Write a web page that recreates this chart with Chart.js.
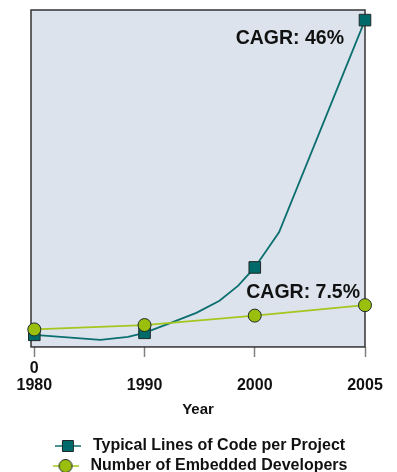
<!DOCTYPE html>
<html>
<head>
<meta charset="utf-8">
<script src="https://cdn.jsdelivr.net/npm/chart.js@4/dist/chart.umd.min.js"></script>
<style>
  html, body { margin: 0; padding: 0; background: #ffffff; overflow: hidden; }
  #wrap { width: 397px; height: 484px; }
</style>
</head>
<body>
<div id="wrap"><canvas id="chart" width="397" height="484"></canvas></div>
<script>
// Year ticks along the horizontal axis (drawn evenly spaced)
const tickYears = [1980, 1990, 2000, 2005];
const yOriginLabel = '0';

// Typical lines of code per project (relative index, 0-100)
const locYears  = [1980, 1986, 1988.5, 1990, 1992.2, 1994.7, 1996.8, 1998.5, 2000, 2001.1, 2005];
const locValues = [3.6,  2.1,  3.0,    4.2,  6.9,    10.1,   13.7,   18.2,   23.6, 34.0,   97.0];

// Number of embedded developers (same relative index)
const devYears  = [1980, 1990, 2000, 2005];
const devValues = [5.2,  6.5,  9.3,  12.4];

const seriesNames = ['Typical Lines of Code per Project', 'Number of Embedded Developers'];
const growthNotes = ['CAGR: 46%', 'CAGR: 7.5%'];
const axisTitle = 'Year';

const FONT = '"Liberation Sans", Arial, Helvetica, sans-serif';
const TEAL_LINE = '#0b6f70';
const TEAL_FILL = '#006a6a';
const GREEN_LINE = '#a4c61e';
const GREEN_FILL = '#9abf0d';
const MARK_EDGE = '#1f2a2a';

// The axis puts each tick year one slot apart; years in between are placed
// proportionally inside their slot.
function yearToSlot(year) {
  for (let i = 0; i < tickYears.length - 1; i++) {
    const a = tickYears[i], b = tickYears[i + 1];
    if (year <= b || i === tickYears.length - 2) {
      return i + (year - a) / (b - a);
    }
  }
  return 0;
}

function legendIcon(lineColor, style, fill) {
  const c = document.createElement('canvas');
  c.width = 26; c.height = 16;
  const g = c.getContext('2d');
  g.strokeStyle = lineColor;
  g.lineWidth = 1.5;
  g.beginPath(); g.moveTo(0, 8); g.lineTo(26, 8); g.stroke();
  g.fillStyle = fill;
  g.strokeStyle = MARK_EDGE;
  g.lineWidth = 1;
  g.beginPath();
  if (style === 'rect') g.rect(7.5, 2.5, 11, 11);
  else g.arc(13, 8, 6.5, 0, Math.PI * 2);
  g.fill(); g.stroke();
  return c;
}
const icons = [legendIcon(TEAL_LINE, 'rect', TEAL_FILL), legendIcon(GREEN_LINE, 'circle', GREEN_FILL)];

const plotFrame = {
  id: 'plotFrame',
  beforeDatasetsDraw(chart) {
    const { ctx, chartArea: a } = chart;
    ctx.save();
    ctx.fillStyle = '#dce3ec';
    ctx.fillRect(a.left, a.top, a.right - a.left, a.bottom - a.top);
    ctx.strokeStyle = '#333333';
    ctx.lineWidth = 1.5;
    ctx.strokeRect(a.left, a.top, a.right - a.left, a.bottom - a.top);
    ctx.restore();
  }
};

const growthLabels = {
  id: 'growthLabels',
  afterDatasetsDraw(chart) {
    const { ctx, chartArea: a, scales } = chart;
    const y = scales.y;
    ctx.save();
    ctx.font = 'bold 19.5px ' + FONT;
    ctx.fillStyle = '#111111';
    ctx.textAlign = 'right';
    ctx.textBaseline = 'alphabetic';
    ctx.fillText(growthNotes[0], a.right - 21, y.getPixelForValue(locValues[locValues.length - 1]) + 24);
    ctx.fillText(growthNotes[1], a.right - 5, y.getPixelForValue(devValues[devValues.length - 1]) - 7);
    ctx.restore();
  }
};

Chart.defaults.font.family = FONT;
Chart.defaults.color = '#111111';

new Chart(document.getElementById('chart'), {
  type: 'line',
  data: {
    datasets: [
      {
        label: seriesNames[0],
        data: locYears.map((yr, i) => ({ x: yearToSlot(yr), y: locValues[i] })),
        borderColor: TEAL_LINE,
        borderWidth: 1.8,
        backgroundColor: TEAL_FILL,
        pointStyle: 'rect',
        pointRadius: (c) => tickYears.includes(locYears[c.dataIndex]) ? 8.2 : 0,
        pointBackgroundColor: TEAL_FILL,
        pointBorderColor: MARK_EDGE,
        pointBorderWidth: 1,
        tension: 0,
        clip: false,
        order: 1
      },
      {
        label: seriesNames[1],
        data: devYears.map((yr, i) => ({ x: yearToSlot(yr), y: devValues[i] })),
        borderColor: GREEN_LINE,
        borderWidth: 1.8,
        backgroundColor: GREEN_FILL,
        pointStyle: 'circle',
        pointRadius: 6.5,
        pointBackgroundColor: GREEN_FILL,
        pointBorderColor: MARK_EDGE,
        pointBorderWidth: 1,
        tension: 0,
        clip: false,
        order: 0
      }
    ]
  },
  options: {
    responsive: false,
    animation: false,
    events: [],
    layout: { padding: { left: 31, right: 32, top: 10, bottom: 0 } },
    scales: {
      x: {
        type: 'linear',
        min: -0.03,
        max: tickYears.length - 1,
        afterBuildTicks(scale) {
          scale.ticks = tickYears.map((_, i) => ({ value: i }));
        },
        ticks: {
          autoSkip: false,
          maxRotation: 0,
          padding: 3.3,
          color: '#111111',
          font: { size: 16, weight: 'bold', lineHeight: 1.05 },
          callback: (v, i) => i === 0 ? [yOriginLabel, String(tickYears[i])] : ['', String(tickYears[i])]
        },
        grid: {
          drawOnChartArea: false,
          drawTicks: true,
          tickLength: 10,
          tickColor: '#808080',
          tickWidth: 1.5,
          color: '#808080'
        },
        border: { display: false },
        title: {
          display: true,
          text: axisTitle,
          color: '#111111',
          font: { size: 15, weight: 'bold', lineHeight: 1.2 },
          padding: { top: 3.85, bottom: 15 }
        }
      },
      y: {
        display: false,
        min: 0,
        max: 100
      }
    },
    plugins: {
      tooltip: { enabled: false },
      legend: {
        position: 'bottom',
        labels: {
          usePointStyle: true,
          pointStyleWidth: 34,
          padding: 4,
          color: '#111111',
          font: { size: 16, weight: 'bold' },
          generateLabels(chart) {
            const items = Chart.defaults.plugins.legend.labels.generateLabels(chart);
            items.forEach((it) => { it.pointStyle = icons[it.datasetIndex]; });
            items.sort((a, b) => a.datasetIndex - b.datasetIndex);
            return items;
          }
        }
      }
    }
  },
  plugins: [plotFrame, growthLabels]
});
</script>
</body>
</html>
